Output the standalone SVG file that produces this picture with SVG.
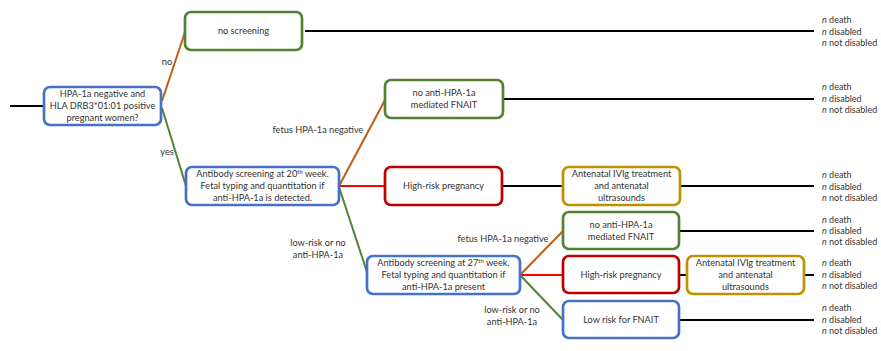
<svg xmlns="http://www.w3.org/2000/svg" width="881" height="351" viewBox="0 0 881 351">
<style>
.box{fill:#fff;stroke-width:2.7}
.b{stroke:#4472C4}.g{stroke:#548235}.r{stroke:#C00000}.y{stroke:#BF9000}
text{font-family:"Lato","Liberation Sans",sans-serif;font-size:9.2px;fill:#333}
.t{text-anchor:middle}
.o{font-size:9px}
.ln{stroke:#000;stroke-width:2;fill:none}
.cg{stroke:#548235;stroke-width:2;fill:none}
.co{stroke:#C55A11;stroke-width:2;fill:none}
.cr{stroke:#FF0000;stroke-width:2;fill:none}
</style>
<g id="connectors">
<line class="ln" x1="10" y1="106" x2="43" y2="106"/>
<line class="co" x1="162" y1="101" x2="185" y2="32"/>
<line class="cg" x1="162" y1="108" x2="186" y2="186"/>
<line class="ln" x1="305" y1="31" x2="814" y2="31"/>
<line class="co" x1="339" y1="186" x2="385" y2="100"/>
<line class="cr" x1="339" y1="186" x2="385" y2="186"/>
<line class="cg" x1="339" y1="187" x2="368" y2="275"/>
<line class="ln" x1="503" y1="99" x2="814" y2="99"/>
<line class="ln" x1="502" y1="186" x2="563" y2="186"/>
<line class="ln" x1="680" y1="186" x2="814" y2="186"/>
<line class="co" x1="520" y1="275" x2="563" y2="231"/>
<line class="cr" x1="520" y1="275" x2="563" y2="275"/>
<line class="cg" x1="520" y1="275" x2="563" y2="320"/>
<line class="ln" x1="679" y1="231" x2="814" y2="231"/>
<line class="ln" x1="679" y1="275" x2="687" y2="275"/>
<line class="ln" x1="804" y1="275" x2="814" y2="275"/>
<line class="ln" x1="679" y1="320" x2="814" y2="320"/>
<text x="167" y="65" class="t">no</text>
<text x="167" y="155" class="t">yes</text>
<text x="318" y="133" class="t">fetus HPA-1a negative</text>
<text x="318" y="246" class="t">low-risk or no</text>
<text x="318" y="258" class="t">anti-HPA-1a</text>
<text x="503" y="242" class="t">fetus HPA-1a negative</text>
<text x="512" y="313" class="t">low-risk or no</text>
<text x="512" y="325" class="t">anti-HPA-1a</text>
</g>
<g id="start">
<rect class="box b" x="44" y="87" width="117" height="38" rx="6"/>
<text x="102.5" y="97" class="t">HPA-1a negative and</text>
<text x="102.5" y="109" class="t">HLA DRB3*01:01 positive</text>
<text x="102.5" y="121" class="t">pregnant women?</text>
</g>
<g id="no-screening">
<rect class="box g" x="185" y="12" width="117" height="38" rx="6"/>
<text x="243.5" y="34" class="t">no screening</text>
</g>
<g id="ab20">
<rect class="box b" x="186" y="167" width="153" height="38" rx="6"/>
<text x="262.5" y="177" class="t">Antibody screening at 20<tspan font-size="6" dy="-3">th</tspan><tspan dy="3"> week.</tspan></text>
<text x="262.5" y="189" class="t">Fetal typing and quantitation if</text>
<text x="262.5" y="201" class="t">anti-HPA-1a is detected.</text>
</g>
<g id="noanti1">
<rect class="box g" x="385" y="80" width="118" height="38" rx="6"/>
<text x="444" y="96" class="t">no anti-HPA-1a</text>
<text x="444" y="108" class="t">mediated FNAIT</text>
</g>
<g id="highrisk1">
<rect class="box r" x="385" y="167" width="117" height="38" rx="6"/>
<text x="443.5" y="189" class="t">High-risk pregnancy</text>
</g>
<g id="ivig1">
<rect class="box y" x="563" y="167" width="117" height="38" rx="6"/>
<text x="621.5" y="177" class="t">Antenatal IVIg treatment</text>
<text x="621.5" y="189" class="t">and antenatal</text>
<text x="621.5" y="201" class="t">ultrasounds</text>
</g>
<g id="ab27">
<rect class="box b" x="367" y="256" width="153" height="38" rx="6"/>
<text x="443.5" y="266" class="t">Antibody screening at 27<tspan font-size="6" dy="-3">th</tspan><tspan dy="3"> week.</tspan></text>
<text x="443.5" y="278" class="t">Fetal typing and quantitation if</text>
<text x="443.5" y="290" class="t">anti-HPA-1a present</text>
</g>
<g id="noanti2">
<rect class="box g" x="563" y="212" width="116" height="37" rx="6"/>
<text x="621" y="228" class="t">no anti-HPA-1a</text>
<text x="621" y="240" class="t">mediated FNAIT</text>
</g>
<g id="highrisk2">
<rect class="box r" x="563" y="256" width="116" height="37" rx="6"/>
<text x="621" y="278" class="t">High-risk pregnancy</text>
</g>
<g id="ivig2">
<rect class="box y" x="687" y="256" width="117" height="38" rx="6"/>
<text x="745.5" y="266" class="t">Antenatal IVIg treatment</text>
<text x="745.5" y="278" class="t">and antenatal</text>
<text x="745.5" y="290" class="t">ultrasounds</text>
</g>
<g id="lowrisk">
<rect class="box b" x="563" y="301" width="116" height="37" rx="6"/>
<text x="621" y="323" class="t">Low risk for FNAIT</text>
</g>
<g id="outcomes" class="o">
<text class="o" x="822" y="23"><tspan font-style="italic">n</tspan> death</text>
<text class="o" x="822" y="35"><tspan font-style="italic">n</tspan> disabled</text>
<text class="o" x="822" y="46"><tspan font-style="italic">n</tspan> not disabled</text>
<text class="o" x="822" y="90"><tspan font-style="italic">n</tspan> death</text>
<text class="o" x="822" y="102"><tspan font-style="italic">n</tspan> disabled</text>
<text class="o" x="822" y="113"><tspan font-style="italic">n</tspan> not disabled</text>
<text class="o" x="822" y="178"><tspan font-style="italic">n</tspan> death</text>
<text class="o" x="822" y="190"><tspan font-style="italic">n</tspan> disabled</text>
<text class="o" x="822" y="201"><tspan font-style="italic">n</tspan> not disabled</text>
<text class="o" x="822" y="223"><tspan font-style="italic">n</tspan> death</text>
<text class="o" x="822" y="234"><tspan font-style="italic">n</tspan> disabled</text>
<text class="o" x="822" y="245"><tspan font-style="italic">n</tspan> not disabled</text>
<text class="o" x="822" y="266"><tspan font-style="italic">n</tspan> death</text>
<text class="o" x="822" y="278"><tspan font-style="italic">n</tspan> disabled</text>
<text class="o" x="822" y="289"><tspan font-style="italic">n</tspan> not disabled</text>
<text class="o" x="822" y="311"><tspan font-style="italic">n</tspan> death</text>
<text class="o" x="822" y="323"><tspan font-style="italic">n</tspan> disabled</text>
<text class="o" x="822" y="334"><tspan font-style="italic">n</tspan> not disabled</text>
</g>
</svg>
